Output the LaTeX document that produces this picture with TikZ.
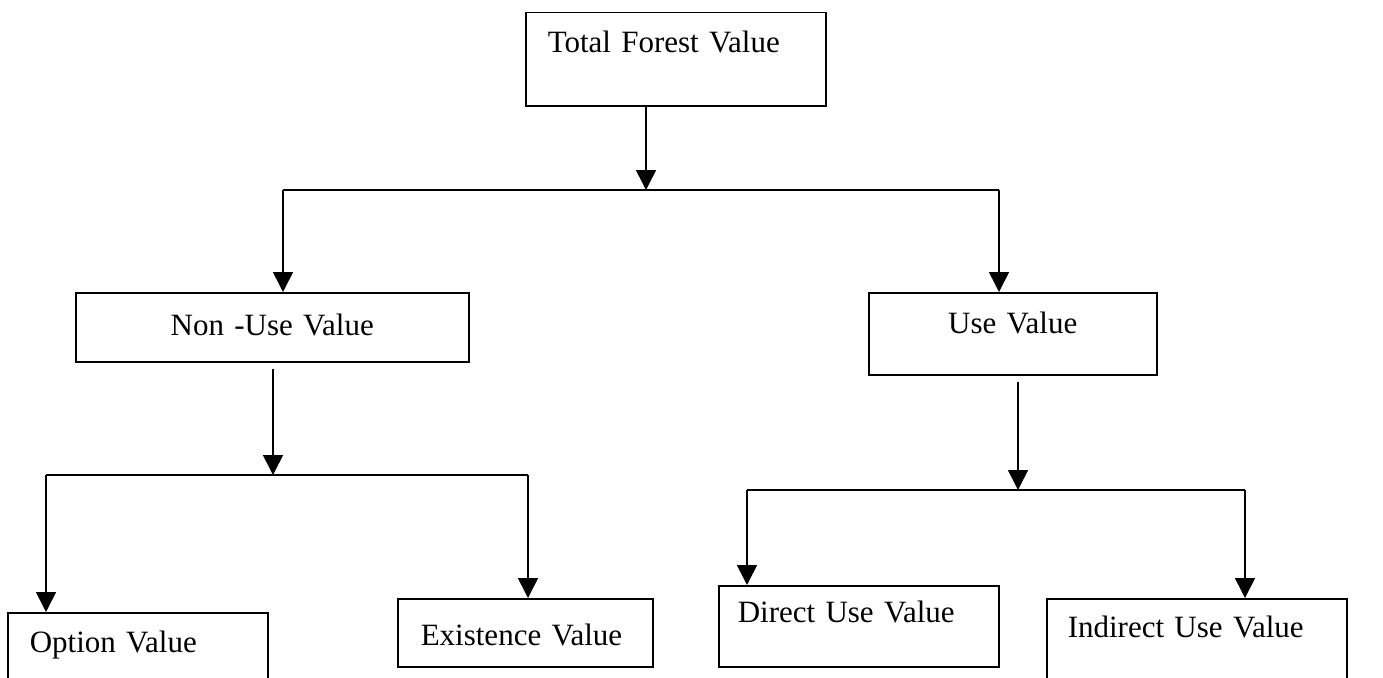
\documentclass[tikz,border=0pt]{standalone}
\usepackage{fontspec}
\setmainfont{Liberation Serif}
\usetikzlibrary{arrows.meta}

\tikzset{
  box/.style={draw, line width=1.5pt, anchor=north west, inner ysep=0pt,
    align=left, font=\fontsize{31}{36}\selectfont},
  link/.style={line width=1.6pt},
  arr/.style={link, -{Triangle[length=20pt,width=20pt]}}
}

\begin{document}
\begin{tikzpicture}[x=1pt,y=-1pt]
\useasboundingbox (0,0) rectangle (1383,677);
\clip (0,0) rectangle (1383,677);

% boxes
\node[box, inner xsep=22pt, text width=256pt, text height=40pt, text depth=53pt]
  (total) at (525,12) {Total Forest Value};
\node[box, align=center, inner xsep=10pt, text width=373pt, text height=43pt, text depth=26pt]
  (nonuse) at (75,292) {Non -Use Value};
\node[box, align=center, inner xsep=10pt, text width=268pt, text height=41pt, text depth=41pt]
  (use) at (868,292) {Use Value};
\node[box, inner xsep=22pt, text width=216pt, text height=40pt, text depth=108pt]
  (option) at (7,612) {Option Value};
\node[box, inner xsep=23pt, text width=209pt, text height=47pt, text depth=21pt]
  (exist) at (397,598) {Existence Value};
\node[box, inner xsep=19pt, text width=242pt, text height=37pt, text depth=44pt]
  (direct) at (718,585) {Direct Use Value};
\node[box, inner xsep=21pt, text width=258pt, text height=39pt, text depth=120pt]
  (indirect) at (1046,598) {Indirect Use Value};

% junctions
\coordinate (top) at (646,190);
\coordinate (topL) at (283,190);
\coordinate (topR) at (999,190);
\coordinate (midL) at (273,475);
\coordinate (optL) at (46,475);
\coordinate (exiR) at (528,475);
\coordinate (midR) at (1018,490);
\coordinate (dirL) at (747,490);
\coordinate (indR) at (1245,490);

% first level
\draw[arr] (total.south -| top) -- (top);
\draw[link] (topL) -- (topR);
\draw[arr] (topL) -- (topL |- nonuse.north);
\draw[arr] (topR) -- (topR |- use.north);

% non-use branch
\draw[arr, shorten <=6pt] (nonuse.south -| midL) -- (midL);
\draw[link] (optL) -- (exiR);
\draw[arr] (optL) -- (optL |- option.north);
\draw[arr] (exiR) -- (exiR |- exist.north);

% use branch
\draw[arr, shorten <=6pt] (use.south -| midR) -- (midR);
\draw[link] (dirL) -- (indR);
\draw[arr] (dirL) -- (dirL |- direct.north);
\draw[arr] (indR) -- (indR |- indirect.north);
\end{tikzpicture}
\end{document}
